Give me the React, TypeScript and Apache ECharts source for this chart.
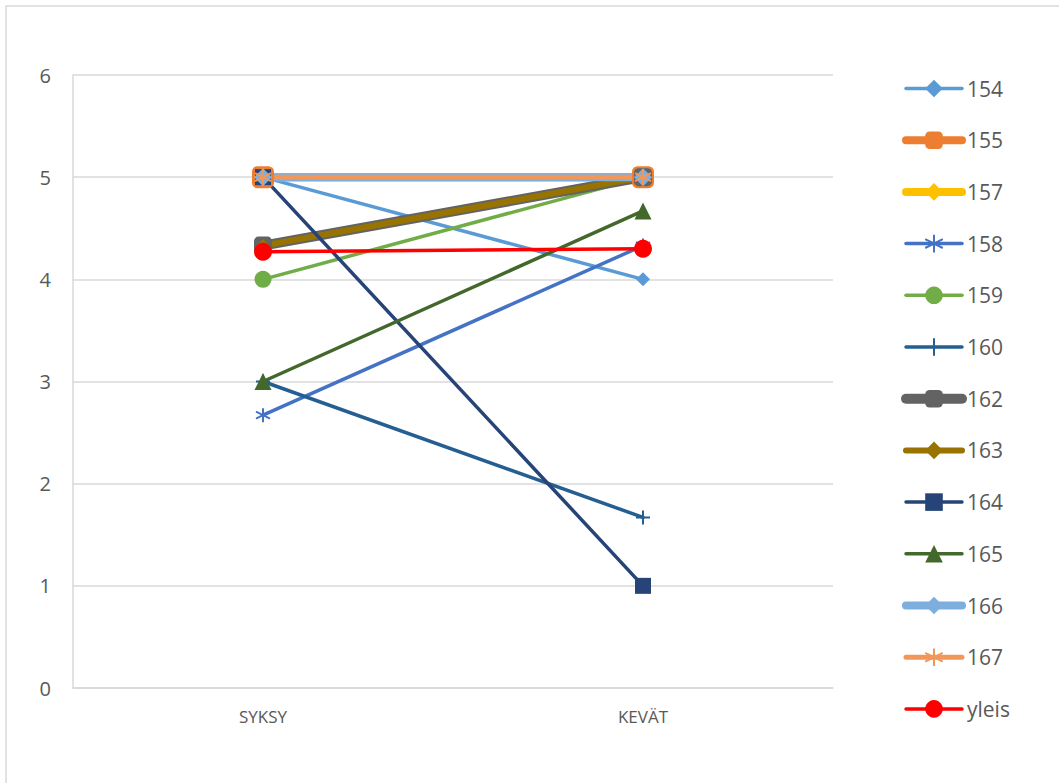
import React, { useEffect, useRef } from "react";
import * as echarts from "echarts";

// Seasons on the category axis
const categories = ["SYKSY", "KEVÄT"];

// Per-group averages, autumn → spring
const s154 = [5, 4];
const s155 = [5, 5];
const s157 = [5, 5];
const s158 = [2.67, 4.33];
const s159 = [4, 5];
const s160 = [3, 1.67];
const s162 = [4.33, 5];
const s163 = [4.33, 5];
const s164 = [5, 1];
const s165 = [3, 4.67];
const s166 = [5, 5];
const s167 = [5, 5];
const yleis = [4.27, 4.3];

const yTicks = [0, 1, 2, 3, 4, 5, 6];

const ASTERISK = "path://M0,-10L0,10M-8.66,-5L8.66,5M-8.66,5L8.66,-5";
const PLUS = "path://M0,-10L0,10M-10,0L10,0";

type Spec = {
  name: string;
  data: number[];
  color: string;
  width: number;
  symbol: string;
  size: number;
  stroke?: boolean;
};

const specs: Spec[] = [
  { name: "154", data: s154, color: "#5B9BD5", width: 3.5, symbol: "diamond", size: 14 },
  { name: "155", data: s155, color: "#ED7D31", width: 8, symbol: "roundRect", size: 22 },
  { name: "157", data: s157, color: "#FFC000", width: 8, symbol: "diamond", size: 18 },
  { name: "158", data: s158, color: "#4472C4", width: 3.5, symbol: ASTERISK, size: 14, stroke: true },
  { name: "159", data: s159, color: "#70AD47", width: 3.5, symbol: "circle", size: 17 },
  { name: "160", data: s160, color: "#255E91", width: 3.5, symbol: PLUS, size: 14, stroke: true },
  { name: "162", data: s162, color: "#636363", width: 10, symbol: "roundRect", size: 18 },
  { name: "163", data: s163, color: "#997300", width: 6, symbol: "diamond", size: 13 },
  { name: "164", data: s164, color: "#264478", width: 3.5, symbol: "rect", size: 16 },
  { name: "165", data: s165, color: "#43682B", width: 3.5, symbol: "triangle", size: 17 },
  { name: "166", data: s166, color: "#7CAFDD", width: 8, symbol: "diamond", size: 18 },
  { name: "167", data: s167, color: "#F1975A", width: 5, symbol: ASTERISK, size: 16, stroke: true },
  { name: "yleis", data: yleis, color: "#FF0000", width: 3.5, symbol: "circle", size: 18 },
];

const TEXT = "#595959";
const GRID = "#D9D9D9";
const FONT = "'Open Sans', 'Liberation Sans', sans-serif";

export default function App() {
  const ref = useRef<HTMLDivElement>(null);

  useEffect(() => {
    if (!ref.current) return;
    const chart = echarts.init(ref.current, undefined, { renderer: "svg" });
    chart.setOption({
      animation: false,
      backgroundColor: "#FFFFFF",
      textStyle: { fontFamily: FONT },
      graphic: [
        {
          type: "rect",
          shape: { x: 6, y: 6, width: 1100, height: 800 },
          style: { fill: "none", stroke: GRID, lineWidth: 1.5 },
          silent: true,
        },
      ],
      grid: { left: 73, right: 226, top: 75, bottom: 95 },
      xAxis: {
        type: "category",
        data: categories,
        boundaryGap: true,
        axisLine: { lineStyle: { color: GRID, width: 1.5 } },
        axisTick: { show: false },
        axisLabel: { color: TEXT, fontSize: 17, margin: 20, fontFamily: FONT },
      },
      yAxis: {
        type: "value",
        min: yTicks[0],
        max: yTicks[yTicks.length - 1],
        interval: 1,
        axisLine: { show: true, lineStyle: { color: GRID, width: 1.5 } },
        axisTick: { show: false },
        axisLabel: { color: TEXT, fontSize: 20, margin: 22, fontFamily: FONT },
        splitLine: { lineStyle: { color: GRID, width: 1.5 } },
      },
      legend: {
        orient: "vertical",
        left: 896,
        top: 73,
        itemWidth: 56,
        itemHeight: 22,
        itemGap: 30.7,
        lineStyle: { width: "inherit" },
        textStyle: { color: TEXT, fontSize: 21, fontFamily: FONT },
        data: specs.map((s) => s.name),
      },
      series: specs.map((s) => ({
        name: s.name,
        type: "line",
        data: s.data,
        symbol: s.symbol,
        symbolSize: s.size,
        showSymbol: true,
        lineStyle: { color: s.color, width: s.width, cap: "round", join: "round" },
        itemStyle: s.stroke
          ? { color: s.color, borderColor: s.color, borderWidth: 2 }
          : { color: s.color, borderWidth: 0 },
        emphasis: { disabled: true },
      })),
    });
    return () => chart.dispose();
  }, []);

  return (
    <div
      ref={ref}
      style={{ position: "fixed", left: 0, top: 0, width: 1059, height: 783 }}
    />
  );
}
